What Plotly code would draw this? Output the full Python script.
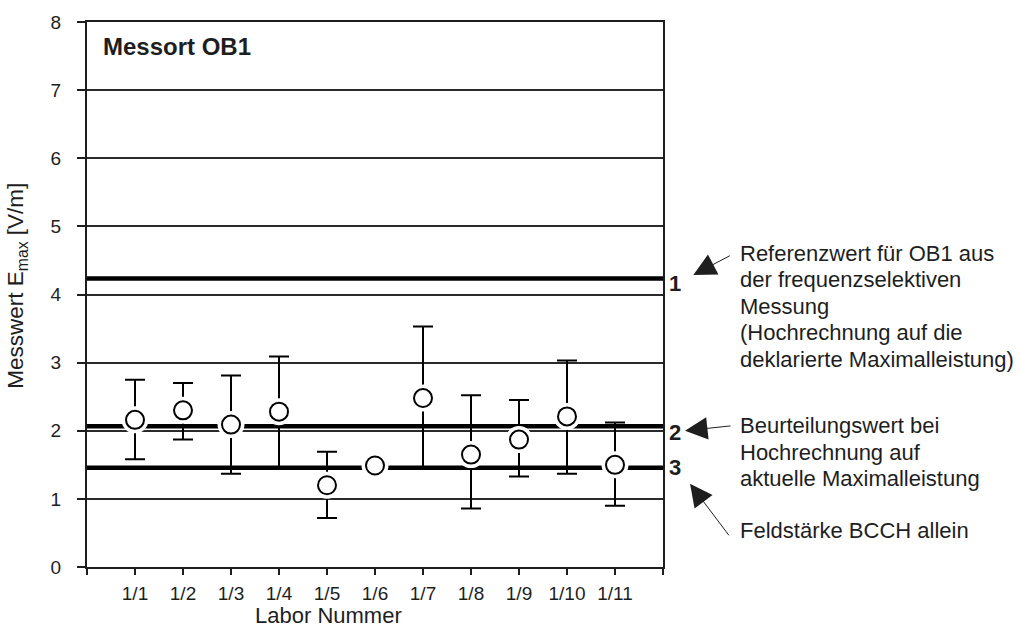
import plotly.graph_objects as go

labs = ["1/1", "1/2", "1/3", "1/4", "1/5", "1/6", "1/7", "1/8", "1/9", "1/10", "1/11"]
lab_pos = [1, 2, 3, 4, 5, 6, 7, 8, 9, 10, 11]
mean_vals = [2.16, 2.30, 2.09, 2.28, 1.20, 1.49, 2.48, 1.65, 1.87, 2.21, 1.50]
upper_vals = [2.75, 2.70, 2.81, 3.09, 1.69, 1.49, 3.53, 2.52, 2.45, 3.03, 2.12]
lower_vals = [1.58, 1.87, 1.37, 1.46, 0.72, 1.49, 1.46, 0.86, 1.33, 1.37, 0.90]
ref_vals = [4.235, 2.066, 1.458]   # 1: Referenzwert, 2: Beurteilungswert, 3: BCCH allein
ref_names = ["1", "2", "3"]
x_range = [0, 12]
y_ticks = [0, 1, 2, 3, 4, 5, 6, 7, 8]
text_ref1 = ["Referenzwert für OB1 aus", "der frequenzselektiven", "Messung",
             "(Hochrechnung auf die", "deklarierte Maximalleistung)"]
text_ref2 = ["Beurteilungswert bei", "Hochrechnung auf", "aktuelle Maximalleistung"]
text_ref3 = ["Feldstärke BCCH allein"]

FONT = "Liberation Sans, Arial, sans-serif"
INK = "#1e1e1e"

err_plus = [u - m for u, m in zip(upper_vals, mean_vals)]
err_minus = [m - l for m, l in zip(mean_vals, lower_vals)]

fig = go.Figure()

for v in ref_vals:
    fig.add_trace(go.Scatter(x=x_range, y=[v, v], mode="lines",
                             line=dict(color="#000000", width=4.5),
                             hoverinfo="skip", showlegend=False, cliponaxis=False))

# error bars
fig.add_trace(go.Scatter(x=lab_pos, y=mean_vals, mode="markers",
                         marker=dict(size=1, color="rgba(0,0,0,0)"),
                         error_y=dict(type="data", symmetric=False, array=err_plus,
                                      arrayminus=err_minus, color="#000000",
                                      thickness=2, width=10),
                         showlegend=False))
# white halo
fig.add_trace(go.Scatter(x=lab_pos, y=mean_vals, mode="markers",
                         marker=dict(size=27, color="white", line=dict(width=0)),
                         showlegend=False, hoverinfo="skip"))
# circles
fig.add_trace(go.Scatter(x=lab_pos, y=mean_vals, mode="markers",
                         marker=dict(size=18, color="white",
                                     line=dict(width=2, color="#000000")),
                         showlegend=False))

fig.update_layout(
    width=1019, height=629,
    margin=dict(l=87, r=356, t=19, b=62),
    paper_bgcolor="white", plot_bgcolor="white",
    font=dict(family=FONT, size=18, color=INK),
    showlegend=False,
)
fig.update_xaxes(range=x_range, tickmode="array",
                 tickvals=[0] + lab_pos + [12],
                 ticktext=[""] + labs + [""],
                 ticks="outside", ticklen=6, tickwidth=2, tickcolor=INK,
                 showline=True, linewidth=2, linecolor=INK, mirror=True,
                 showgrid=False, zeroline=False,
                 tickfont=dict(size=19, color=INK), ticklabelstandoff=2)
fig.update_yaxes(range=[0, 8], tickmode="array", tickvals=y_ticks,
                 ticks="outside", ticklen=8, tickwidth=2, tickcolor=INK,
                 showline=True, linewidth=2, linecolor=INK, mirror=True,
                 showgrid=True, gridcolor="#2a2a2a", gridwidth=1.5,
                 zeroline=False,
                 tickfont=dict(size=19, color=INK), ticklabelstandoff=12)

ann = []
ann.append(dict(x=0.025, y=0.9556, xref="paper", yref="paper", text="<b>Messort OB1</b>",
                showarrow=False, xanchor="left", yanchor="middle",
                font=dict(size=24, color=INK)))
ann.append(dict(x=-0.1207, y=0.517, xref="paper", yref="paper",
                text="Messwert E<sub>max</sub> [V/m]", textangle=-90,
                showarrow=False, xanchor="center", yanchor="middle",
                font=dict(size=22.5, color=INK)))
ann.append(dict(x=0.42, y=-0.0894, xref="paper", yref="paper",
                text="Labor Nummer", showarrow=False,
                xanchor="center", yanchor="middle", font=dict(size=22, color=INK)))
# numbers
for nm, yy in zip(ref_names, [0.5206, 0.2469, 0.1830]):
    ann.append(dict(x=1.0208, y=yy, xref="paper", yref="paper", text="<b>" + nm + "</b>",
                    showarrow=False, xanchor="center", yanchor="middle",
                    font=dict(size=22, color=INK)))
# explanation texts, one line each
line_y = [0.5754, 0.5268, 0.4781, 0.4294, 0.3808, 0.2591, 0.2104, 0.1619, 0.0675]
for txt, yy in zip(text_ref1 + text_ref2 + text_ref3, line_y):
    ann.append(dict(x=1.1297, y=yy, xref="paper", yref="paper", text=txt,
                    showarrow=False, xanchor="left", yanchor="middle", align="left",
                    font=dict(size=22, color=INK)))
# arrows
for (tx, ty, axp, ayp) in [(1.0526, 0.5359, 38, -20), (1.0382, 0.25, 47, -5),
                           (1.0469, 0.1527, 40, 53)]:
    ann.append(dict(x=tx, y=ty, xref="paper", yref="paper", text="", showarrow=True,
                    ax=axp, ay=ayp, axref="pixel", ayref="pixel",
                    arrowhead=2, arrowsize=4.5, arrowwidth=1, arrowcolor=INK,
                    standoff=0))
fig.update_layout(annotations=ann)

fig.write_html("out.html")
